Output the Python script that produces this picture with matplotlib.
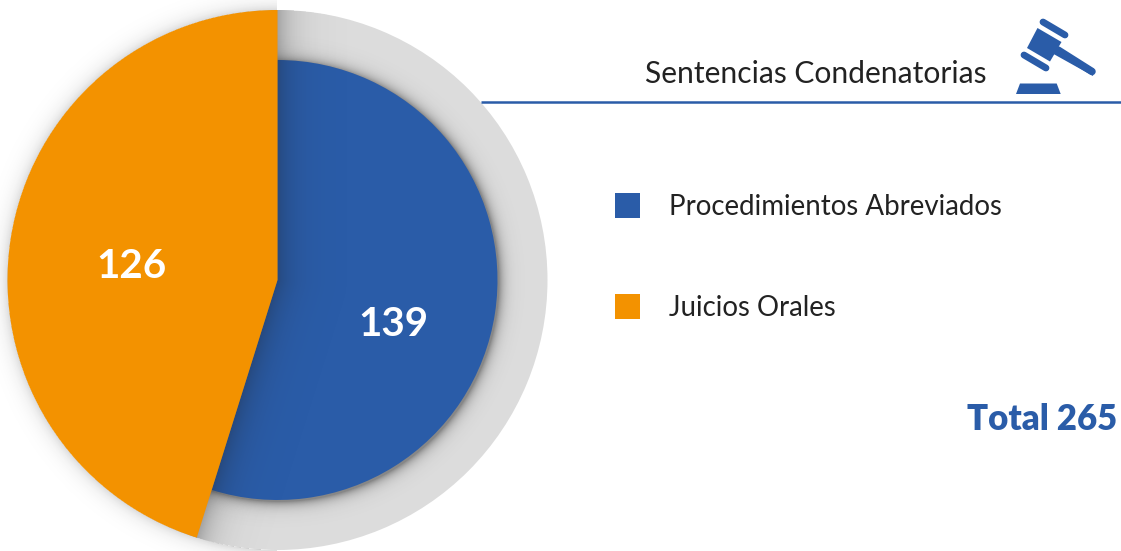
import matplotlib
matplotlib.use("Agg")
import matplotlib.pyplot as plt
import numpy as np
from matplotlib.patches import Polygon, Rectangle

plt.rcParams["font.family"] = ["Lato", "DejaVu Sans"]

categories = ["Procedimientos Abreviados", "Juicios Orales"]
counts = [139, 126]
# the drawn slices are not quite proportional to the counts, degrees read off the picture
slice_degrees = [197.4, 162.6]
title = "Sentencias Condenatorias"
total_label = "Total 265"

BLUE = "#2A5CA8"
ORANGE = "#F39200"
GRAY = "#DCDCDC"
W, H = 1121, 551
cx, cy = 277.5, H - 280
r_out, r_in = 270, 220

fig = plt.figure(figsize=(W / 100, H / 100), dpi=100)
ax = fig.add_axes([0, 0, 1, 1])


def py(y):
    # picture y (from the top) to axes y
    return H - y


def shadow_layer(alpha, zorder):
    layer = np.zeros((H, W, 4))
    layer[..., :3] = 0.12
    layer[..., 3] = alpha
    ax.imshow(layer, extent=(0, W, 0, H), origin="upper", zorder=zorder, aspect="auto")


def ray_distance(angle):
    # distance of every pixel to the ray leaving the centre at this angle
    ux, uy = np.cos(angle), np.sin(angle)
    along = np.clip(dx * ux + dy * uy, 0, None)
    return np.hypot(dx - along * ux, dy - along * uy)


xx, yy = np.meshgrid(np.arange(W) + 0.5, np.arange(H) + 0.5)
dx = xx - cx
dy = (H - yy) - cy
dist = np.hypot(dx, dy)

# gray disc
ax.pie([1], radius=r_out, center=(cx, cy), colors=[GRAY], frame=True)

# shadow of the blue disc on the gray ring, slightly offset to the lower right
ring = np.clip(np.hypot(dx - 1.5, dy + 1.5) - r_in, 0, None)
shadow_layer(0.45 * np.exp(-ring / 5.5) * (dist <= r_out), 1.5)

blue_wedges, _ = ax.pie(slice_degrees, startangle=90, counterclock=False, radius=r_in,
                        center=(cx, cy), colors=[BLUE, BLUE], frame=True)
blue_wedges[0].set_zorder(1.8)
blue_wedges[1].set_visible(False)

# shadow of the orange slice, falling off away from its two straight edges
edge = np.minimum(ray_distance(np.pi / 2), ray_distance(np.deg2rad(90 - slice_degrees[0])))
a_edge = 0.30 * np.exp(-edge / 16.0) * (dist <= r_out)

# faint shadow outside the rim of the orange slice
a_rim = 0.16 * np.exp(-np.clip(dist - r_out, 0, None) / 7.0) * (dist > r_out) * (dx < 0)
shadow_layer(1 - (1 - a_edge) * (1 - a_rim), 2)

# orange slice on top
orange_wedges, _ = ax.pie(slice_degrees, startangle=90, counterclock=False, radius=r_out,
                          center=(cx, cy), colors=[ORANGE, ORANGE], frame=True)
orange_wedges[0].set_visible(False)
orange_wedges[1].set_zorder(3)

# counts on the slices
ax.text(393, py(325), str(counts[0]), color="white", fontsize=29, fontweight="bold", ha="center", va="center", zorder=5)
ax.text(131, py(266), str(counts[1]), color="white", fontsize=29, fontweight="bold", ha="center", va="center", zorder=5)

# title and rule
ax.text(645, py(74), title, color="#222222", fontsize=21.6, ha="left", va="center", zorder=5)
ax.plot([481, W], [py(102), py(102)], color=BLUE, lw=1.8, solid_capstyle="butt", zorder=5)

# legend
for name, color, y in zip(categories, [BLUE, ORANGE], [205.5, 306.5]):
    ax.add_patch(Rectangle((615, py(y + 12.5)), 25, 25, color=color, lw=0, zorder=5))
    ax.text(669, py(y + 1.5), name, color="#222222", fontsize=19.9, ha="left", va="center", zorder=5)

ax.text(1117, py(419), total_label, color=BLUE, fontsize=25, fontweight="heavy", ha="right", va="center", zorder=5)

# gavel icon
ax.plot([1043, 1065], [py(22), py(35)], color=BLUE, lw=4.9, solid_capstyle="round", zorder=5)
ax.plot([1024, 1046], [py(55), py(68)], color=BLUE, lw=4.9, solid_capstyle="round", zorder=5)
ax.add_patch(Polygon([(1037.5, py(28)), (1061.5, py(42)), (1050, py(61.5)), (1027, py(48))], color=BLUE, lw=0, zorder=5))
ax.add_patch(Polygon([(1055, py(46)), (1094, py(69)), (1093, py(76)), (1050, py(52))], color=BLUE, lw=0, zorder=5))
ax.plot([1058, 1092], [py(50), py(71.5)], color=BLUE, lw=5.4, solid_capstyle="round", zorder=5)
ax.add_patch(Polygon([(1020, py(83.5)), (1056.7, py(83.5)), (1060.7, py(94)), (1016, py(94))], color=BLUE, lw=0, zorder=5))

ax.set_xlim(0, W)
ax.set_ylim(0, H)
ax.set_aspect("auto")
ax.axis("off")

fig.savefig("out.png", dpi=100, facecolor="white")
